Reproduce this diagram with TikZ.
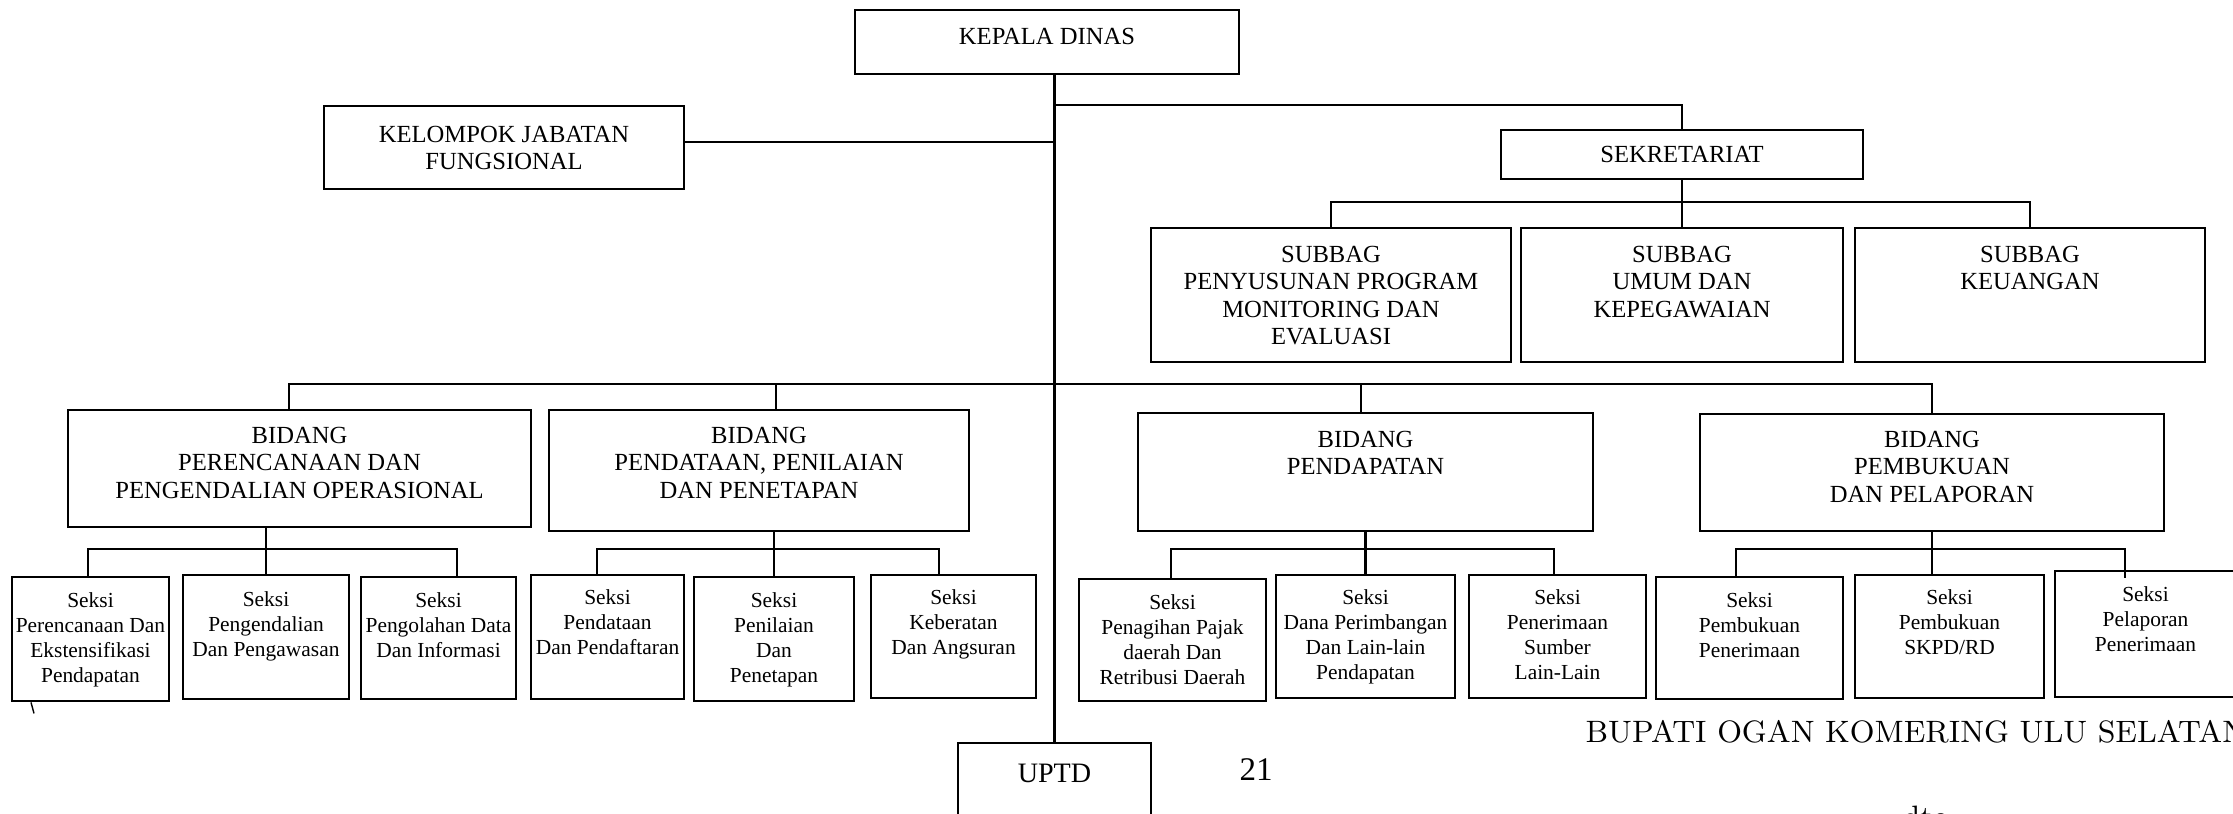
\documentclass[tikz,border=0pt]{standalone}
\usepackage{fontspec}
\newfontfamily\timesfont{Liberation Serif}
\usetikzlibrary{positioning}

\begin{document}
\begin{tikzpicture}[x=0.1mm, y=-0.1mm,
    box/.style={draw, line width=0.8pt, inner sep=0pt},
    headtxt/.style={font=\timesfont\fontsize{7}{7.8}\selectfont, align=center, inner sep=0pt},
    seksitxt/.style={font=\timesfont\fontsize{6.1}{7.1}\selectfont, align=center, inner sep=0pt},
    link/.style={line width=0.6pt}]

    % Page frame (the scan is cut at the right and bottom edges)
    \useasboundingbox (0,0) rectangle (2233,814);
    \clip (0,0) rectangle (2233,814);

    % Top level
    \node[box, minimum width=38.4mm, minimum height=6.4mm] (kepala) at (1047,42) {};
    \node[headtxt, below=1.9mm of kepala.north] (kepalaT) {KEPALA DINAS};

    \node[box, minimum width=36mm, minimum height=8.3mm] (kjf) at (504,147.5) {};
    \node[headtxt, below=2.1mm of kjf.north] (kjfT) {KELOMPOK JABATAN\\FUNGSIONAL};

    \node[box, minimum width=36.2mm, minimum height=4.9mm] (sekre) at (1682,154.5) {};
    \node[headtxt, below=1.7mm of sekre.north] (sekreT) {SEKRETARIAT};

    % Subbag under the secretariat
    \node[box, minimum width=36mm, minimum height=13.4mm] (sbProg) at (1331,295) {};
    \node[headtxt, below=1.9mm of sbProg.north] (sbProgT) {SUBBAG\\PENYUSUNAN PROGRAM\\MONITORING DAN\\EVALUASI};
    \node[box, minimum width=32.2mm, minimum height=13.4mm] (sbUmum) at (1682,295) {};
    \node[headtxt, below=1.9mm of sbUmum.north] (sbUmumT) {SUBBAG\\UMUM DAN\\KEPEGAWAIAN};
    \node[box, minimum width=35mm, minimum height=13.4mm] (sbKeu) at (2030,295) {};
    \node[headtxt, below=1.9mm of sbKeu.north] (sbKeuT) {SUBBAG\\KEUANGAN};

    % Bidang
    \node[box, minimum width=46.3mm, minimum height=11.7mm] (bdRencana) at (299.5,468.5) {};
    \node[headtxt, below=1.8mm of bdRencana.north] (bdRencanaT) {BIDANG\\PERENCANAAN DAN\\PENGENDALIAN OPERASIONAL};
    \node[box, minimum width=42mm, minimum height=12.1mm] (bdDatan) at (759,470.5) {};
    \node[headtxt, below=1.8mm of bdDatan.north] (bdDatanT) {BIDANG\\PENDATAAN, PENILAIAN\\DAN PENETAPAN};
    \node[box, minimum width=45.5mm, minimum height=11.8mm] (bdPendapatan) at (1365.5,472) {};
    \node[headtxt, below=1.9mm of bdPendapatan.north] (bdPendapatanT) {BIDANG\\PENDAPATAN};
    \node[box, minimum width=46.4mm, minimum height=11.7mm] (bdBuku) at (1932,472.5) {};
    \node[headtxt, below=1.8mm of bdBuku.north] (bdBukuT) {BIDANG\\PEMBUKUAN\\DAN PELAPORAN};

    % Seksi
    \node[box, minimum width=15.7mm, minimum height=12.4mm] (skRencana) at (90.5,639) {};
    \node[seksitxt, below=1.6mm of skRencana.north] (skRencanaT) {Seksi\\Perencanaan Dan\\Ekstensifikasi\\Pendapatan};
    \node[box, minimum width=16.6mm, minimum height=12.4mm] (skKendali) at (266,637) {};
    \node[seksitxt, below=1.7mm of skKendali.north] (skKendaliT) {Seksi\\Pengendalian\\Dan Pengawasan};
    \node[box, minimum width=15.5mm, minimum height=12.2mm] (skOlah) at (438.5,638) {};
    \node[seksitxt, below=1.6mm of skOlah.north] (skOlahT) {Seksi\\Pengolahan Data\\Dan Informasi};
    \node[box, minimum width=15.3mm, minimum height=12.4mm] (skDatan) at (607.5,637) {};
    \node[seksitxt, below=1.5mm of skDatan.north] (skDatanT) {Seksi\\Pendataan\\Dan Pendaftaran};
    \node[box, minimum width=16mm, minimum height=12.4mm] (skNilai) at (774,639) {};
    \node[seksitxt, below=1.6mm of skNilai.north] (skNilaiT) {Seksi\\Penilaian\\Dan\\Penetapan};
    \node[box, minimum width=16.5mm, minimum height=12.3mm] (skBerat) at (953.5,636.5) {};
    \node[seksitxt, below=1.5mm of skBerat.north] (skBeratT) {Seksi\\Keberatan\\Dan Angsuran};
    \node[box, minimum width=18.7mm, minimum height=12.2mm] (skTagih) at (1172.5,640) {};
    \node[seksitxt, below=1.6mm of skTagih.north] (skTagihT) {Seksi\\Penagihan Pajak\\daerah Dan\\Retribusi Daerah};
    \node[box, minimum width=17.9mm, minimum height=12.3mm] (skDana) at (1365.5,636.5) {};
    \node[seksitxt, below=1.5mm of skDana.north] (skDanaT) {Seksi\\Dana Perimbangan\\Dan Lain-lain\\Pendapatan};
    \node[box, minimum width=17.7mm, minimum height=12.3mm] (skTerima) at (1557.5,636.5) {};
    \node[seksitxt, below=1.5mm of skTerima.north] (skTerimaT) {Seksi\\Penerimaan\\Sumber\\Lain-Lain};
    \node[box, minimum width=18.7mm, minimum height=12.2mm] (skBukuT) at (1749.5,638) {};
    \node[seksitxt, below=1.6mm of skBukuT.north] (skBukuTT) {Seksi\\Pembukuan\\Penerimaan};
    \node[box, minimum width=18.9mm, minimum height=12.3mm] (skBukuS) at (1949.5,636.5) {};
    \node[seksitxt, below=1.5mm of skBukuS.north] (skBukuST) {Seksi\\Pembukuan\\SKPD/RD};
    \node[box, minimum width=18.1mm, minimum height=12.6mm] (skLapor) at (2145.5,634) {};
    \node[seksitxt, below=1.6mm of skLapor.north] (skLaporT) {Seksi\\Pelaporan\\Penerimaan};

    % UPTD at the foot of the main line
    \node[box, minimum width=19.3mm, minimum height=8.7mm] (uptd) at (1054.5,786.5) {};
    \node[font=\timesfont\fontsize{8}{9}\selectfont, inner sep=0pt, below=2.2mm of uptd.north] (uptdT) {UPTD};

    % Main line and branches
    \draw[link] (uptd.north |- kepala.south) -- (uptd.north);
    \draw[link] ([yshift=0.55mm]kjf.east) -- ([yshift=0.55mm]kjf.east -| uptd.north);
    \draw[link] (uptd.north |- kjf.north) -| (sekre.north);
    \draw[link] (sekre.south) -- (sbUmum.north);
    \draw[link] (sbProg.north) -- ++(0,-25) -| (sbKeu.north);

    % Bidang bus
    \draw[link] ([xshift=-1.05mm]bdRencana.north) -- ++(0,-25) -| (bdBuku.north);
    \draw[link] ([xshift=1.7mm]bdDatan.north) -- ++(0,-25);
    \draw[link] ([xshift=-0.45mm]bdPendapatan.north) -- ++(0,-28);

    % Seksi buses
    \draw[link] (skKendali.north |- bdRencana.south) -- (skKendali.north);
    \draw[link] ([xshift=-0.25mm]skRencana.north) -- ++(0,-27) -| ([xshift=1.85mm]skOlah.north);
    \draw[link] (skNilai.north |- bdDatan.south) -- (skNilai.north);
    \draw[link] ([xshift=-1.05mm]skDatan.north) -- ++(0,-25) -| ([xshift=-1.45mm]skBerat.north);
    \draw[link] (bdPendapatan.south) -- (bdPendapatan.south |- skDana.north);
    \draw[link] ([xshift=-0.15mm]skTagih.north) -- ++(0,-29) -| ([xshift=-0.35mm]skTerima.north);
    \draw[link] (bdBuku.south) -- (bdBuku.south |- skBukuS.north);
    \draw[link] ([xshift=-1.35mm]skBukuT.north) -- ++(0,-27) -| ([xshift=-2.05mm, yshift=-0.8mm]skLapor.north);
    \draw[line width=0.4pt] ([xshift=-5.95mm]skRencana.south) -- ++(3,11);

    % Page text
    \node[font=\timesfont\fontsize{9.4}{10}\selectfont, inner sep=0pt] (halaman) at (1256,770) {21};
    \node[font=\fontsize{8.8}{10}\selectfont, anchor=base west, inner sep=0pt] (bupati) at (1585,742) {BUPATI OGAN KOMERING ULU SELATAN};
    \node[font=\fontsize{8.8}{10}\selectfont, anchor=north west, inner sep=0pt] (dto) at (1902,805) {dto};

\end{tikzpicture}
\end{document}
